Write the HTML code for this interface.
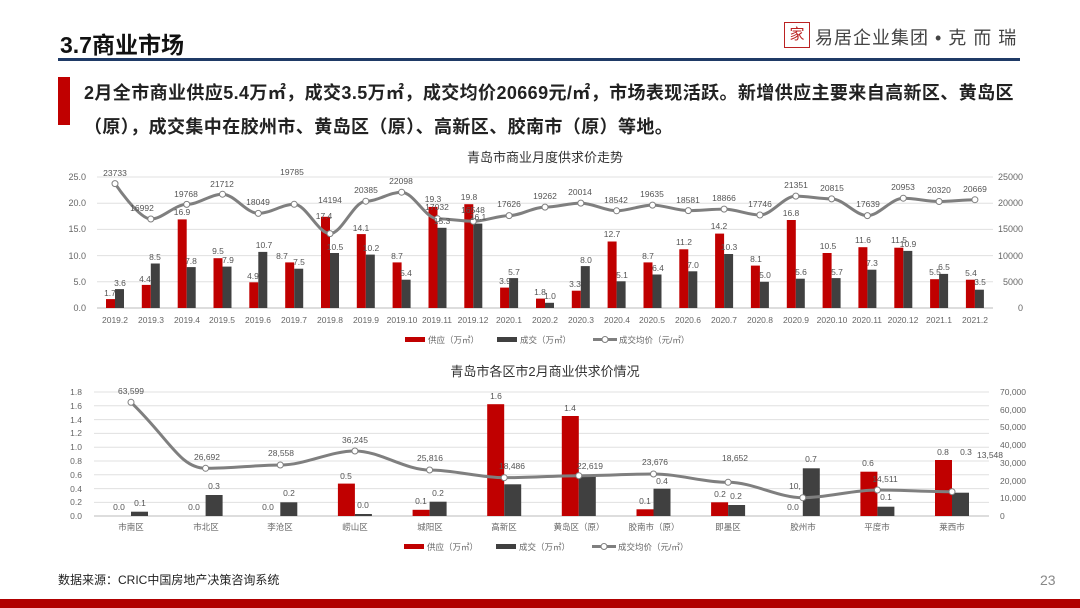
<!DOCTYPE html>
<html><head><meta charset="utf-8"><style>
body{margin:0;width:1080px;height:608px;background:#fff;position:relative;overflow:hidden;font-family:"Liberation Sans","Noto Sans CJK SC",sans-serif}
.t{position:absolute;white-space:nowrap}
</style></head><body>
<div class="t" style="left:60px;top:26px;font-size:23px;font-weight:bold;color:#111">3.7商业市场</div>
<div class="t" style="left:784px;top:22px;width:26px;height:26px;border:1px solid #b22;box-sizing:border-box;color:#b22;font-size:15px;line-height:24px;text-align:center">家</div>
<div class="t" style="left:815px;top:24px;font-size:18px;color:#444;letter-spacing:1px">易居企业集团 • 克 而 瑞</div>
<div style="position:absolute;left:58px;top:58px;width:962px;height:3px;background:#1f3a66"></div>
<div style="position:absolute;left:58px;top:77px;width:12px;height:48px;background:#c00000"></div>
<div class="t" style="left:84px;top:76px;font-size:18px;letter-spacing:0.4px;font-weight:bold;color:#222;line-height:34px">2月全市商业供应5.4万㎡，成交3.5万㎡，成交均价20669元/㎡，市场表现活跃。新增供应主要来自高新区、黄岛区<br>（原），成交集中在胶州市、黄岛区（原）、高新区、胶南市（原）等地。</div>
<div class="t" style="left:58px;top:571px;font-size:12px;color:#222">数据来源：CRIC中国房地产决策咨询系统</div>
<div class="t" style="left:1040px;top:572px;font-size:14px;color:#888">23</div>
<div style="position:absolute;left:0;top:599px;width:1080px;height:9px;background:#b00000"></div>

<svg width="1080" height="608" style="position:absolute;left:0;top:0" font-family="Liberation Sans,Noto Sans CJK SC,sans-serif">
<text x="545" y="162" font-size="13" fill="#333" text-anchor="middle">青岛市商业月度供求价走势</text>
<g stroke="#e0e0e0" stroke-width="1">
<line x1="97" x2="993" y1="177" y2="177"/><line x1="97" x2="993" y1="203.2" y2="203.2"/><line x1="97" x2="993" y1="229.4" y2="229.4"/><line x1="97" x2="993" y1="255.6" y2="255.6"/><line x1="97" x2="993" y1="281.8" y2="281.8"/><line x1="97" x2="993" y1="308" y2="308" stroke="#bbb"/>
</g>
<g font-size="9" fill="#666" text-anchor="end">
<text x="86" y="180">25.0</text><text x="86" y="206">20.0</text><text x="86" y="232">15.0</text><text x="86" y="259">10.0</text><text x="86" y="285">5.0</text><text x="86" y="311">0.0</text>
</g>
<g font-size="9" fill="#666" text-anchor="end">
<text x="1023" y="180">25000</text><text x="1023" y="206">20000</text><text x="1023" y="232">15000</text><text x="1023" y="259">10000</text><text x="1023" y="285">5000</text><text x="1023" y="311">0</text>
</g>
<g fill="#c00000">
<rect x="106" y="299.1" width="9" height="8.9"/><rect x="141.8" y="284.9" width="9" height="23.1"/><rect x="177.7" y="219.4" width="9" height="88.6"/><rect x="213.5" y="258.2" width="9" height="49.8"/><rect x="249.3" y="282.3" width="9" height="25.7"/><rect x="285.2" y="262.4" width="9" height="45.6"/><rect x="321" y="216.8" width="9" height="91.2"/><rect x="356.8" y="234.1" width="9" height="73.9"/><rect x="392.6" y="262.4" width="9" height="45.6"/><rect x="428.5" y="206.9" width="9" height="101.1"/><rect x="464.3" y="204.2" width="9" height="103.8"/><rect x="500.1" y="287.6" width="9" height="20.4"/><rect x="536" y="298.6" width="9" height="9.4"/><rect x="571.8" y="290.7" width="9" height="17.3"/><rect x="607.6" y="241.5" width="9" height="66.5"/><rect x="643.5" y="262.4" width="9" height="45.6"/><rect x="679.3" y="249.3" width="9" height="58.7"/><rect x="715.1" y="233.6" width="9" height="74.4"/><rect x="750.9" y="265.6" width="9" height="42.4"/><rect x="786.8" y="220" width="9" height="88"/><rect x="822.6" y="253" width="9" height="55"/><rect x="858.4" y="247.2" width="9" height="60.8"/><rect x="894.3" y="247.7" width="9" height="60.3"/><rect x="930.1" y="279.2" width="9" height="28.8"/><rect x="965.9" y="279.7" width="9" height="28.3"/>
</g>
<g fill="#404040">
<rect x="115" y="289.1" width="9" height="18.9"/><rect x="150.8" y="263.5" width="9" height="44.5"/><rect x="186.7" y="267.1" width="9" height="40.9"/><rect x="222.5" y="266.6" width="9" height="41.4"/><rect x="258.3" y="251.9" width="9" height="56.1"/><rect x="294.2" y="268.7" width="9" height="39.3"/><rect x="330" y="253" width="9" height="55"/><rect x="365.8" y="254.6" width="9" height="53.4"/><rect x="401.6" y="279.7" width="9" height="28.3"/><rect x="437.5" y="227.8" width="9" height="80.2"/><rect x="473.3" y="223.6" width="9" height="84.4"/><rect x="509.1" y="278.1" width="9" height="29.9"/><rect x="545" y="302.8" width="9" height="5.2"/><rect x="580.8" y="266.1" width="9" height="41.9"/><rect x="616.6" y="281.3" width="9" height="26.7"/><rect x="652.5" y="274.5" width="9" height="33.5"/><rect x="688.3" y="271.3" width="9" height="36.7"/><rect x="724.1" y="254" width="9" height="54"/><rect x="759.9" y="281.8" width="9" height="26.2"/><rect x="795.8" y="278.7" width="9" height="29.3"/><rect x="831.6" y="278.1" width="9" height="29.9"/><rect x="867.4" y="269.7" width="9" height="38.3"/><rect x="903.3" y="250.9" width="9" height="57.1"/><rect x="939.1" y="273.9" width="9" height="34.1"/><rect x="974.9" y="289.7" width="9" height="18.3"/>
</g>
<path fill="none" stroke="#7f7f7f" stroke-width="3" d="M115 183.6 S138.8 219 150.8 219 S174.7 204.4 186.7 204.4 S210.5 194.2 222.5 194.2 S246.3 213.4 258.3 213.4 S282.2 204.3 294.2 204.3 S318 233.6 330 233.6 S353.8 201.2 365.8 201.2 S389.6 192.2 401.6 192.2 S425.5 218.8 437.5 218.8 S461.3 221.3 473.3 221.3 S497.1 215.6 509.1 215.6 S533 207.1 545 207.1 S568.8 203.1 580.8 203.1 S604.6 210.8 616.6 210.8 S640.5 205.1 652.5 205.1 S676.3 210.6 688.3 210.6 S712.1 209.1 724.1 209.1 S747.9 215 759.9 215 S783.8 196.1 795.8 196.1 S819.6 198.9 831.6 198.9 S855.4 215.6 867.4 215.6 S891.3 198.2 903.3 198.2 S927.1 201.5 939.1 201.5 S962.9 199.7 974.9 199.7"/>
<g fill="#fff" stroke="#7f7f7f" stroke-width="1">
<circle cx="115" cy="183.6" r="3"/><circle cx="150.8" cy="219" r="3"/><circle cx="186.7" cy="204.4" r="3"/><circle cx="222.5" cy="194.2" r="3"/><circle cx="258.3" cy="213.4" r="3"/><circle cx="294.2" cy="204.3" r="3"/><circle cx="330" cy="233.6" r="3"/><circle cx="365.8" cy="201.2" r="3"/><circle cx="401.6" cy="192.2" r="3"/><circle cx="437.5" cy="218.8" r="3"/><circle cx="473.3" cy="221.3" r="3"/><circle cx="509.1" cy="215.6" r="3"/><circle cx="545" cy="207.1" r="3"/><circle cx="580.8" cy="203.1" r="3"/><circle cx="616.6" cy="210.8" r="3"/><circle cx="652.5" cy="205.1" r="3"/><circle cx="688.3" cy="210.6" r="3"/><circle cx="724.1" cy="209.1" r="3"/><circle cx="759.9" cy="215" r="3"/><circle cx="795.8" cy="196.1" r="3"/><circle cx="831.6" cy="198.9" r="3"/><circle cx="867.4" cy="215.6" r="3"/><circle cx="903.3" cy="198.2" r="3"/><circle cx="939.1" cy="201.5" r="3"/><circle cx="974.9" cy="199.7" r="3"/>
</g>
<g font-size="8.5" fill="#555" text-anchor="middle">
<text x="115" y="176">23733</text><text x="142" y="211">16992</text><text x="186" y="197">19768</text><text x="222" y="187">21712</text><text x="258" y="205">18049</text><text x="292" y="175">19785</text><text x="330" y="203">14194</text><text x="366" y="193">20385</text><text x="401" y="184">22098</text><text x="437" y="210">17032</text><text x="473" y="213">16548</text><text x="509" y="207">17626</text><text x="545" y="199">19262</text><text x="580" y="195">20014</text><text x="616" y="203">18542</text><text x="652" y="197">19635</text><text x="688" y="203">18581</text><text x="724" y="201">18866</text><text x="760" y="207">17746</text><text x="796" y="188">21351</text><text x="832" y="191">20815</text><text x="868" y="207">17639</text><text x="903" y="190">20953</text><text x="939" y="193">20320</text><text x="975" y="192">20669</text>
</g>
<g font-size="8.5" fill="#555" text-anchor="middle">
<text x="110" y="296">1.7</text><text x="145" y="282">4.4</text><text x="182" y="215">16.9</text><text x="218" y="254">9.5</text><text x="253" y="279">4.9</text><text x="282" y="259">8.7</text><text x="324" y="219">17.4</text><text x="361" y="231">14.1</text><text x="397" y="259">8.7</text><text x="433" y="202">19.3</text><text x="469" y="200">19.8</text><text x="505" y="284">3.9</text><text x="540" y="295">1.8</text><text x="575" y="287">3.3</text><text x="612" y="237">12.7</text><text x="648" y="259">8.7</text><text x="684" y="245">11.2</text><text x="719" y="229">14.2</text><text x="756" y="262">8.1</text><text x="791" y="216">16.8</text><text x="828" y="249">10.5</text><text x="863" y="243">11.6</text><text x="899" y="243">11.5</text><text x="935" y="275">5.5</text><text x="971" y="276">5.4</text>
<text x="120" y="286">3.6</text><text x="155" y="260">8.5</text><text x="191" y="264">7.8</text><text x="228" y="263">7.9</text><text x="264" y="248">10.7</text><text x="299" y="265">7.5</text><text x="335" y="250">10.5</text><text x="371" y="251">10.2</text><text x="406" y="276">5.4</text><text x="442" y="224">15.3</text><text x="478" y="220">16.1</text><text x="514" y="275">5.7</text><text x="550" y="299">1.0</text><text x="586" y="263">8.0</text><text x="622" y="278">5.1</text><text x="658" y="271">6.4</text><text x="693" y="268">7.0</text><text x="729" y="250">10.3</text><text x="765" y="278">5.0</text><text x="801" y="275">5.6</text><text x="837" y="275">5.7</text><text x="872" y="266">7.3</text><text x="908" y="247">10.9</text><text x="944" y="270">6.5</text><text x="980" y="285">3.5</text>
</g>
<g font-size="8.5" fill="#666" text-anchor="middle">
<text x="115" y="323">2019.2</text><text x="151" y="323">2019.3</text><text x="187" y="323">2019.4</text><text x="222" y="323">2019.5</text><text x="258" y="323">2019.6</text><text x="294" y="323">2019.7</text><text x="330" y="323">2019.8</text><text x="366" y="323">2019.9</text><text x="402" y="323">2019.10</text><text x="437" y="323">2019.11</text><text x="473" y="323">2019.12</text><text x="509" y="323">2020.1</text><text x="545" y="323">2020.2</text><text x="581" y="323">2020.3</text><text x="617" y="323">2020.4</text><text x="652" y="323">2020.5</text><text x="688" y="323">2020.6</text><text x="724" y="323">2020.7</text><text x="760" y="323">2020.8</text><text x="796" y="323">2020.9</text><text x="832" y="323">2020.10</text><text x="867" y="323">2020.11</text><text x="903" y="323">2020.12</text><text x="939" y="323">2021.1</text><text x="975" y="323">2021.2</text>
</g>
<rect x="405" y="337" width="20" height="5" fill="#c00000"/><text x="428" y="343" font-size="8.5" fill="#666">供应（万㎡）</text>
<rect x="497" y="337" width="20" height="5" fill="#404040"/><text x="520" y="343" font-size="8.5" fill="#666">成交（万㎡）</text>
<line x1="593" x2="617" y1="339.5" y2="339.5" stroke="#7f7f7f" stroke-width="3"/><circle cx="605" cy="339.5" r="3" fill="#fff" stroke="#7f7f7f"/><text x="619" y="343" font-size="8.5" fill="#666">成交均价（元/㎡）</text>

<text x="545" y="376" font-size="13" fill="#333" text-anchor="middle">青岛市各区市2月商业供求价情况</text>
<g stroke="#e0e0e0">
<line x1="94" x2="989" y1="392" y2="392"/><line x1="94" x2="989" y1="405.8" y2="405.8"/><line x1="94" x2="989" y1="419.6" y2="419.6"/><line x1="94" x2="989" y1="433.4" y2="433.4"/><line x1="94" x2="989" y1="447.2" y2="447.2"/><line x1="94" x2="989" y1="461" y2="461"/><line x1="94" x2="989" y1="474.8" y2="474.8"/><line x1="94" x2="989" y1="488.6" y2="488.6"/><line x1="94" x2="989" y1="502.4" y2="502.4"/><line x1="94" x2="989" y1="516" y2="516" stroke="#bbb"/>
</g>
<g font-size="8.5" fill="#666" text-anchor="end">
<text x="82" y="395">1.8</text><text x="82" y="409">1.6</text><text x="82" y="423">1.4</text><text x="82" y="436">1.2</text><text x="82" y="450">1.0</text><text x="82" y="464">0.8</text><text x="82" y="478">0.6</text><text x="82" y="492">0.4</text><text x="82" y="505">0.2</text><text x="82" y="519">0.0</text>
</g>
<g font-size="8.5" fill="#666">
<text x="1000" y="395">70,000</text><text x="1000" y="413">60,000</text><text x="1000" y="430">50,000</text><text x="1000" y="448">40,000</text><text x="1000" y="466">30,000</text><text x="1000" y="484">20,000</text><text x="1000" y="501">10,000</text><text x="1000" y="519">0</text>
</g>
<g fill="#c00000">
<rect x="337.9" y="483.6" width="17" height="32.4"/><rect x="412.6" y="509.8" width="17" height="6.2"/><rect x="487.2" y="404.2" width="17" height="111.8"/><rect x="561.8" y="416" width="17" height="100"/><rect x="636.5" y="509.3" width="17" height="6.7"/><rect x="711.1" y="502.3" width="17" height="13.7"/><rect x="860.4" y="471.7" width="17" height="44.3"/><rect x="935" y="460" width="17" height="56"/>
</g>
<g fill="#404040">
<rect x="131" y="511.7" width="17" height="4.3"/><rect x="205.6" y="495" width="17" height="21"/><rect x="280.3" y="502.3" width="17" height="13.7"/><rect x="354.9" y="514" width="17" height="2"/><rect x="429.6" y="501.7" width="17" height="14.3"/><rect x="504.2" y="484.3" width="17" height="31.7"/><rect x="578.8" y="475.7" width="17" height="40.3"/><rect x="653.5" y="488.7" width="17" height="27.3"/><rect x="728.1" y="505" width="17" height="11"/><rect x="802.8" y="468.3" width="17" height="47.7"/><rect x="877.4" y="506.7" width="17" height="9.3"/><rect x="952" y="492.7" width="17" height="23.3"/>
</g>
<path fill="none" stroke="#7f7f7f" stroke-width="3" d="M131 402.3 C170 440 180 468 205.6 468.3 S255 465 280.3 465 S330 451 354.9 451 S405 470 429.6 470 S480 477.7 504.2 477.7 S554 475.7 578.8 475.7 S628 474 653.5 474 S703 482.3 728.1 482.3 S778 497.7 802.8 497.7 S852 490 877.4 490 S927 491.7 952 491.7"/>
<g fill="#fff" stroke="#7f7f7f">
<circle cx="131" cy="402.3" r="3"/><circle cx="205.6" cy="468.3" r="3"/><circle cx="280.3" cy="465" r="3"/><circle cx="354.9" cy="451" r="3"/><circle cx="429.6" cy="470" r="3"/><circle cx="504.2" cy="477.7" r="3"/><circle cx="578.8" cy="475.7" r="3"/><circle cx="653.5" cy="474" r="3"/><circle cx="728.1" cy="482.3" r="3"/><circle cx="802.8" cy="497.7" r="3"/><circle cx="877.4" cy="490" r="3"/><circle cx="952" cy="491.7" r="3"/>
</g>
<g font-size="8.5" fill="#555" text-anchor="middle">
<text x="131" y="394">63,599</text><text x="207" y="460">26,692</text><text x="281" y="456">28,558</text><text x="355" y="443">36,245</text><text x="430" y="461">25,816</text><text x="512" y="469">18,486</text><text x="590" y="469">22,619</text><text x="655" y="465">23,676</text><text x="735" y="461">18,652</text><text x="795" y="489">10,</text><text x="885" y="482">14,511</text><text x="990" y="458">13,548</text>
<text x="119" y="510">0.0</text><text x="140" y="506">0.1</text><text x="194" y="510">0.0</text><text x="214" y="489">0.3</text><text x="268" y="510">0.0</text><text x="289" y="496">0.2</text><text x="346" y="479">0.5</text><text x="363" y="508">0.0</text><text x="421" y="504">0.1</text><text x="438" y="496">0.2</text><text x="496" y="399">1.6</text><text x="570" y="411">1.4</text><text x="645" y="504">0.1</text><text x="662" y="484">0.4</text><text x="720" y="497">0.2</text><text x="736" y="499">0.2</text><text x="793" y="510">0.0</text><text x="811" y="462">0.7</text><text x="868" y="466">0.6</text><text x="886" y="500">0.1</text><text x="943" y="455">0.8</text><text x="966" y="455">0.3</text>
</g>
<g font-size="8.5" fill="#666" text-anchor="middle">
<text x="131" y="530">市南区</text><text x="206" y="530">市北区</text><text x="280" y="530">李沧区</text><text x="355" y="530">崂山区</text><text x="430" y="530">城阳区</text><text x="504" y="530">高新区</text><text x="579" y="530">黄岛区（原）</text><text x="654" y="530">胶南市（原）</text><text x="728" y="530">即墨区</text><text x="803" y="530">胶州市</text><text x="877" y="530">平度市</text><text x="952" y="530">莱西市</text>
</g>
<rect x="404" y="544" width="20" height="5" fill="#c00000"/><text x="427" y="550" font-size="8.5" fill="#666">供应（万㎡）</text>
<rect x="496" y="544" width="20" height="5" fill="#404040"/><text x="519" y="550" font-size="8.5" fill="#666">成交（万㎡）</text>
<line x1="592" x2="616" y1="546.5" y2="546.5" stroke="#7f7f7f" stroke-width="3"/><circle cx="604" cy="546.5" r="3" fill="#fff" stroke="#7f7f7f"/><text x="618" y="550" font-size="8.5" fill="#666">成交均价（元/㎡）</text>
</svg>
</body></html>
